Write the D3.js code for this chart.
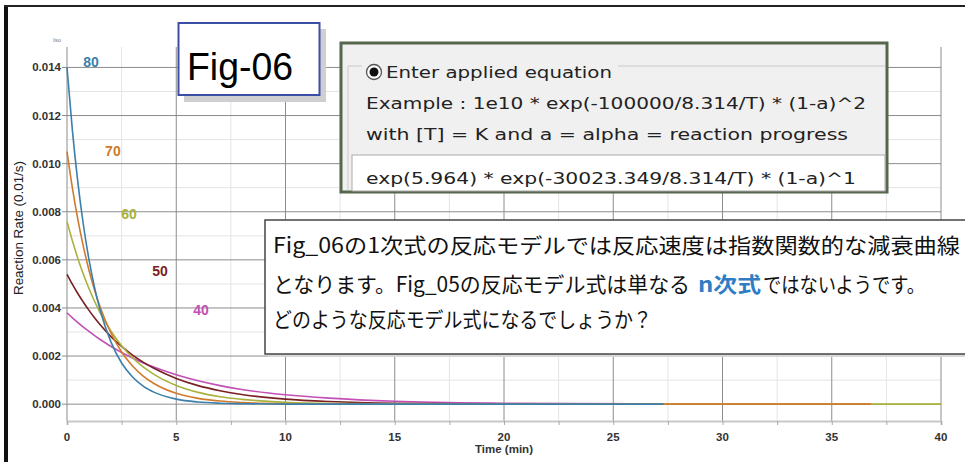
<!DOCTYPE html>
<html lang="ja">
<head>
<meta charset="utf-8">
<title>Fig-06</title>
<script src="https://cdn.jsdelivr.net/npm/d3@7"></script>
<style>
  body { margin: 0; background: #fff; }
  svg { display: block; }
  .tick-label { font: bold 11.5px "Liberation Sans", Arial, sans-serif; fill: #333; }
  .series-label { font: bold 14px "Liberation Sans", Arial, sans-serif; }
  .eq { font-family: "DejaVu Sans", sans-serif; font-size: 16px; fill: #222; }
  .jp { font-family: "Noto Sans CJK JP", sans-serif; font-size: 21px; fill: #111; }
  .jp.hl { fill: #2f7dc4; font-weight: bold; }
</style>
</head>
<body>
<svg width="965" height="462"></svg>
<script>
// sample times (min) shared by all curves
var times = [0, 0.25, 0.5, 0.75, 1, 1.25, 1.5, 2, 2.5, 3, 3.5, 4, 5, 6, 7, 8, 10, 12, 15, 20];

// reaction rate, one array per isotherm
var rate80 = [0.01400, 0.01135, 0.00920, 0.00746, 0.00604, 0.00490, 0.00397, 0.00261, 0.00171, 0.00113, 0.00074, 0.00049, 0.00021, 0.00009, 0.00004, 0.00002, 0.000003, 0, 0, 0];
var rate70 = [0.01050, 0.00897, 0.00766, 0.00655, 0.00559, 0.00478, 0.00408, 0.00298, 0.00217, 0.00159, 0.00116, 0.00085, 0.00045, 0.00024, 0.00013, 0.00007, 0.00002, 0.000005, 0.000001, 0];
var rate60 = [0.00760, 0.00678, 0.00605, 0.00540, 0.00482, 0.00430, 0.00383, 0.00305, 0.00243, 0.00193, 0.00154, 0.00123, 0.00078, 0.00049, 0.00031, 0.00020, 0.00008, 0.00003, 0.00001, 0];
var rate50 = [0.00540, 0.00498, 0.00459, 0.00424, 0.00391, 0.00360, 0.00332, 0.00282, 0.00240, 0.00204, 0.00174, 0.00148, 0.00107, 0.00077, 0.00056, 0.00040, 0.00021, 0.00011, 0.00004, 0.00001];
var rate40 = [0.00380, 0.00359, 0.00339, 0.00320, 0.00303, 0.00286, 0.00270, 0.00241, 0.00215, 0.00192, 0.00171, 0.00153, 0.00122, 0.00097, 0.00077, 0.00061, 0.00039, 0.00025, 0.00012, 0.00004];

// where each curve stops
var tailTime = [27.3, 36.8, 40, 21, 26];
var tailRate = [0, 0, 0, 0.000005, 0.00001];

var names = ["80", "70", "60", "50", "40"];
var colors = ["#3b7fab", "#d07b2c", "#aab23c", "#7a1f22", "#c250b6"];
var labelAt = [[1.1, 0.01423], [2.1, 0.01053], [2.84, 0.00791], [4.26, 0.00554], [6.13, 0.00392]];

var xTicks = [0, 5, 10, 15, 20, 25, 30, 35, 40];
var yTicks = [0, 0.002, 0.004, 0.006, 0.008, 0.010, 0.012, 0.014];

var svg = d3.select("svg");

var x = d3.scaleLinear().domain([0, 40]).range([67, 941]);
var y = d3.scaleLinear().domain([-0.0007, 0.01485]).range([421, 47]);

// frame of the screenshot
svg.append("rect").attr("x", 4).attr("y", 5).attr("width", 4).attr("height", 457).attr("fill", "#111");
svg.append("rect").attr("x", 4).attr("y", 5).attr("width", 961).attr("height", 2).attr("fill", "#222");

svg.append("text").attr("x", 53).attr("y", 42)
    .style("font", "6px 'Liberation Sans', sans-serif").attr("fill", "#777").text("Iso");

// grid
var grid = svg.append("g");
var minorX = d3.range(2.5, 40, 5);
var minorY = d3.range(0.001, 0.0149, 0.002);

grid.selectAll(".mx").data(minorX).enter().append("line")
    .attr("x1", x).attr("x2", x).attr("y1", 47).attr("y2", 421)
    .attr("stroke", "#e4e4e4");
grid.selectAll(".my").data(minorY).enter().append("line")
    .attr("x1", 67).attr("x2", 941).attr("y1", y).attr("y2", y)
    .attr("stroke", "#e4e4e4");
grid.selectAll(".gx").data(xTicks).enter().append("line")
    .attr("x1", x).attr("x2", x).attr("y1", 47).attr("y2", 421)
    .attr("stroke", "#8c8c8c");
grid.selectAll(".gy").data(yTicks).enter().append("line")
    .attr("x1", 62).attr("x2", 941).attr("y1", y).attr("y2", y)
    .attr("stroke", "#8c8c8c");

// bottom axis
var xAxis = svg.append("g")
    .attr("transform", "translate(0,421)")
    .call(d3.axisBottom(x).tickValues(d3.range(0, 40.1, 2.5)).tickSize(4).tickFormat(""));
xAxis.select(".domain").attr("stroke", "#c8c8c8").attr("stroke-width", 2);
xAxis.selectAll(".tick line").attr("stroke", "#aaa");

svg.selectAll(".xl").data(xTicks).enter().append("text")
    .attr("class", "tick-label")
    .attr("x", x).attr("y", 441)
    .attr("text-anchor", "middle")
    .text(function(d) { return d; });

svg.selectAll(".yl").data(yTicks).enter().append("text")
    .attr("class", "tick-label")
    .attr("x", 61).attr("y", function(d) { return y(d) + 4; })
    .attr("text-anchor", "end")
    .text(d3.format(".3f"));

svg.append("text").attr("class", "tick-label")
    .attr("x", x(20)).attr("y", 453).attr("text-anchor", "middle")
    .text("Time (min)");

svg.append("text")
    .attr("transform", "translate(23,228) rotate(-90)")
    .attr("text-anchor", "middle")
    .attr("textLength", 134).attr("lengthAdjust", "spacingAndGlyphs")
    .style("font", "12px 'Liberation Sans', Arial, sans-serif")
    .attr("fill", "#222")
    .text("Reaction Rate (0.01/s)");

// curves
var all = [rate80, rate70, rate60, rate50, rate40];
var line = d3.line()
    .curve(d3.curveMonotoneX)
    .x(function(d) { return x(d[0]); })
    .y(function(d) { return y(d[1]); });

var order = [4, 3, 2, 1, 0];
order.forEach(function(i) {
  var pts = times.map(function(t, j) { return [t, all[i][j]]; });
  pts.push([tailTime[i], tailRate[i]]);
  svg.append("path")
      .attr("d", line(pts))
      .attr("fill", "none")
      .attr("stroke", colors[i])
      .attr("stroke-width", 1.6);
});

svg.selectAll(".sl").data(names).enter().append("text")
    .attr("class", "series-label")
    .attr("x", function(d, i) { return x(labelAt[i][0]); })
    .attr("y", function(d, i) { return y(labelAt[i][1]) + 5; })
    .attr("text-anchor", "middle")
    .attr("fill", function(d, i) { return colors[i]; })
    .text(function(d) { return d; });

// Fig-06 box
svg.append("rect").attr("x", 184).attr("y", 29).attr("width", 142).attr("height", 73).attr("fill", "#cfcfd2");
svg.append("rect").attr("x", 178.5).attr("y", 23).attr("width", 141).attr("height", 72)
    .attr("fill", "#fff").attr("stroke", "#3a4ea6").attr("stroke-width", 2);
svg.append("text").attr("x", 187).attr("y", 80)
    .attr("textLength", 106).attr("lengthAdjust", "spacingAndGlyphs")
    .style("font", "38px 'Liberation Sans', Arial, sans-serif").attr("fill", "#000")
    .text("Fig-06");

// applied equation panel
var eq = svg.append("g");
eq.append("rect").attr("x", 341).attr("y", 43).attr("width", 546).attr("height", 149)
    .attr("fill", "#f0f0f0").attr("stroke", "#56664f").attr("stroke-width", 3);
eq.append("line").attr("x1", 348).attr("x2", 362).attr("y1", 66).attr("y2", 66).attr("stroke", "#c9c9c9");
eq.append("line").attr("x1", 618).attr("x2", 885).attr("y1", 66).attr("y2", 66).attr("stroke", "#c9c9c9");
eq.append("line").attr("x1", 348).attr("x2", 348).attr("y1", 66).attr("y2", 190).attr("stroke", "#c9c9c9");
eq.append("rect").attr("x", 352).attr("y", 155).attr("width", 533).attr("height", 36)
    .attr("fill", "#fff").attr("stroke", "#a9a9a9");
eq.append("circle").attr("cx", 374).attr("cy", 72).attr("r", 7.5)
    .attr("fill", "#fff").attr("stroke", "#555").attr("stroke-width", 1.3);
eq.append("circle").attr("cx", 374).attr("cy", 72).attr("r", 4.5).attr("fill", "#111");

var eqLines = [
  ["Enter applied equation", 386, 78, 226],
  ["Example :  1e10 * exp(-100000/8.314/T) * (1-a)^2", 366, 109, 500],
  ["with [T] = K and a = alpha = reaction progress", 366, 140, 482],
  ["exp(5.964) * exp(-30023.349/8.314/T) * (1-a)^1", 366, 184, 490]
];
eq.selectAll(".eq").data(eqLines).enter().append("text")
    .attr("class", "eq")
    .attr("x", function(d) { return d[1]; })
    .attr("y", function(d) { return d[2]; })
    .attr("textLength", function(d) { return d[3]; })
    .attr("lengthAdjust", "spacingAndGlyphs")
    .text(function(d) { return d[0]; });

// comment box
var note = svg.append("g");
note.append("rect").attr("x", 268).attr("y", 223).attr("width", 700).attr("height", 134).attr("fill", "#d8d8d8");
note.append("rect").attr("x", 265).attr("y", 220).attr("width", 702).attr("height", 134)
    .attr("fill", "#fff").attr("stroke", "#444").attr("stroke-width", 1.5);

note.append("text").attr("class", "jp").attr("x", 273).attr("y", 253)
    .attr("textLength", 687).attr("lengthAdjust", "spacingAndGlyphs")
    .text("Fig_06の1次式の反応モデルでは反応速度は指数関数的な減衰曲線");
note.append("text").attr("class", "jp").attr("x", 273).attr("y", 292)
    .attr("textLength", 417).attr("lengthAdjust", "spacingAndGlyphs")
    .text("となります。Fig_05の反応モデル式は単なる");
note.append("text").attr("class", "jp hl").attr("x", 698).attr("y", 292)
    .attr("textLength", 63).attr("lengthAdjust", "spacingAndGlyphs")
    .text("n次式");
note.append("text").attr("class", "jp").attr("x", 763).attr("y", 292)
    .attr("textLength", 162).attr("lengthAdjust", "spacingAndGlyphs")
    .text("ではないようです。");
note.append("text").attr("class", "jp").attr("x", 273).attr("y", 327)
    .attr("textLength", 379).attr("lengthAdjust", "spacingAndGlyphs")
    .text("どのような反応モデル式になるでしょうか？");
</script>
</body>
</html>
